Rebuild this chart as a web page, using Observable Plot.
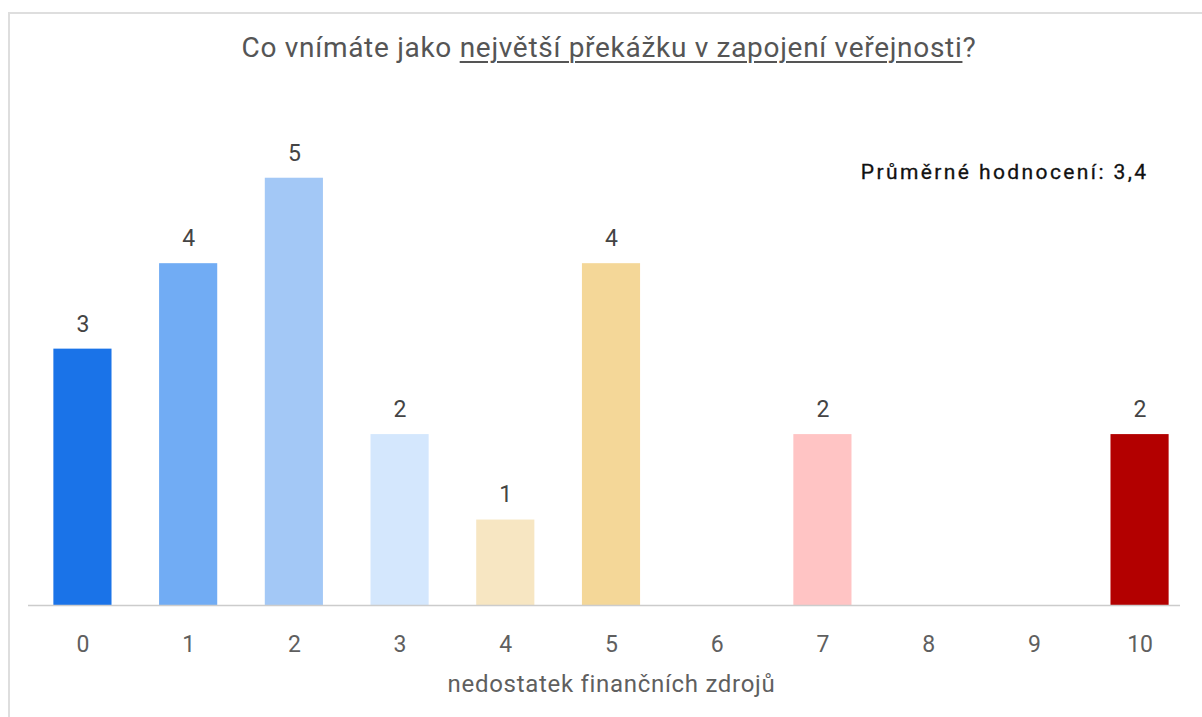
<!DOCTYPE html>
<html>
<head>
<meta charset="utf-8">
<script src="https://cdn.jsdelivr.net/npm/d3@7"></script>
<script src="https://cdn.jsdelivr.net/npm/@observablehq/plot@0.6"></script>
<style>
  html, body { margin: 0; padding: 0; background: #fff; width: 1202px; height: 717px; overflow: hidden; }
  #frame { position: absolute; left: 8px; top: 12px; width: 1300px; height: 800px; border: 2px solid #dedede; box-sizing: border-box; }
  #title { position: absolute; left: 0; width: 1218px; top: 31px; text-align: center; font-family: Roboto, sans-serif; font-size: 28px; letter-spacing: 0.7px; color: #555; line-height: normal; white-space: nowrap; }
  #title u { text-decoration-thickness: 2px; text-underline-offset: 4px; }
  #chart { position: absolute; left: 0; top: 0; }
</style>
</head>
<body>
<div id="frame"></div>
<div id="chart"></div>
<div id="title">Co vnímáte jako <u>největší překážku v zapojení veřejnosti</u>?</div>
<script>
const titleText = "Co vnímáte jako největší překážku v zapojení veřejnosti?";
const scores = ["0","1","2","3","4","5","6","7","8","9","10"];
const counts = [3, 4, 5, 2, 1, 4, 0, 2, 0, 0, 2];
const colors = ["#1a73e8","#71acf4","#a3c8f6","#d4e7fd","#f7e6c2","#f4d798","#f9e0c4","#ffc4c4","#f4a6a6","#e06666","#b30000"];
const xLabel = "nedostatek finančních zdrojů";
const note = "Průměrné hodnocení: 3,4";

const data = scores.map((s, i) => ({score: s, count: counts[i], color: colors[i]}));
const nonZero = data.filter(d => d.count > 0);

const chart = Plot.plot({
  width: 1202,
  height: 717,
  marginLeft: 28,
  marginRight: 8,
  marginTop: 135,
  marginBottom: 112,
  style: {fontFamily: "Roboto, sans-serif", fontSize: "23px", background: "transparent"},
  x: {domain: scores, paddingInner: 0.45, paddingOuter: 0.24, round: false, label: null},
  y: {domain: [0, 5.5], axis: null},
  color: {type: "identity"},
  marks: [
    Plot.barY(nonZero, {x: "score", y: "count", fill: "color"}),
    Plot.ruleY([0], {stroke: "#cccccc", strokeWidth: 1.5, insetRight: 14}),
    Plot.text(nonZero, {x: "score", y: "count", text: d => String(d.count), dy: -25, fill: "#444", fontSize: 23}),
    Plot.axisX({tickSize: 0, tickPadding: 30, fill: "#5f5f5f", fontSize: 23, label: null}),
    Plot.text([xLabel], {frameAnchor: "bottom", dy: 86, fill: "#5f5f5f", fontSize: 24}),
    Plot.text([note], {frameAnchor: "top-right", textAnchor: "end", dx: -46, dy: 29, fill: "#111", fontSize: 21})
  ]
});
d3.select(chart).selectAll("text").each(function() {
  const t = this.textContent;
  if (t === xLabel) this.setAttribute("letter-spacing", "0.7");
  if (t === note) { this.setAttribute("letter-spacing", "2.4"); this.setAttribute("stroke", "#111"); this.setAttribute("stroke-width", "0.3"); }
});
document.getElementById("chart").appendChild(chart);
</script>
</body>
</html>
